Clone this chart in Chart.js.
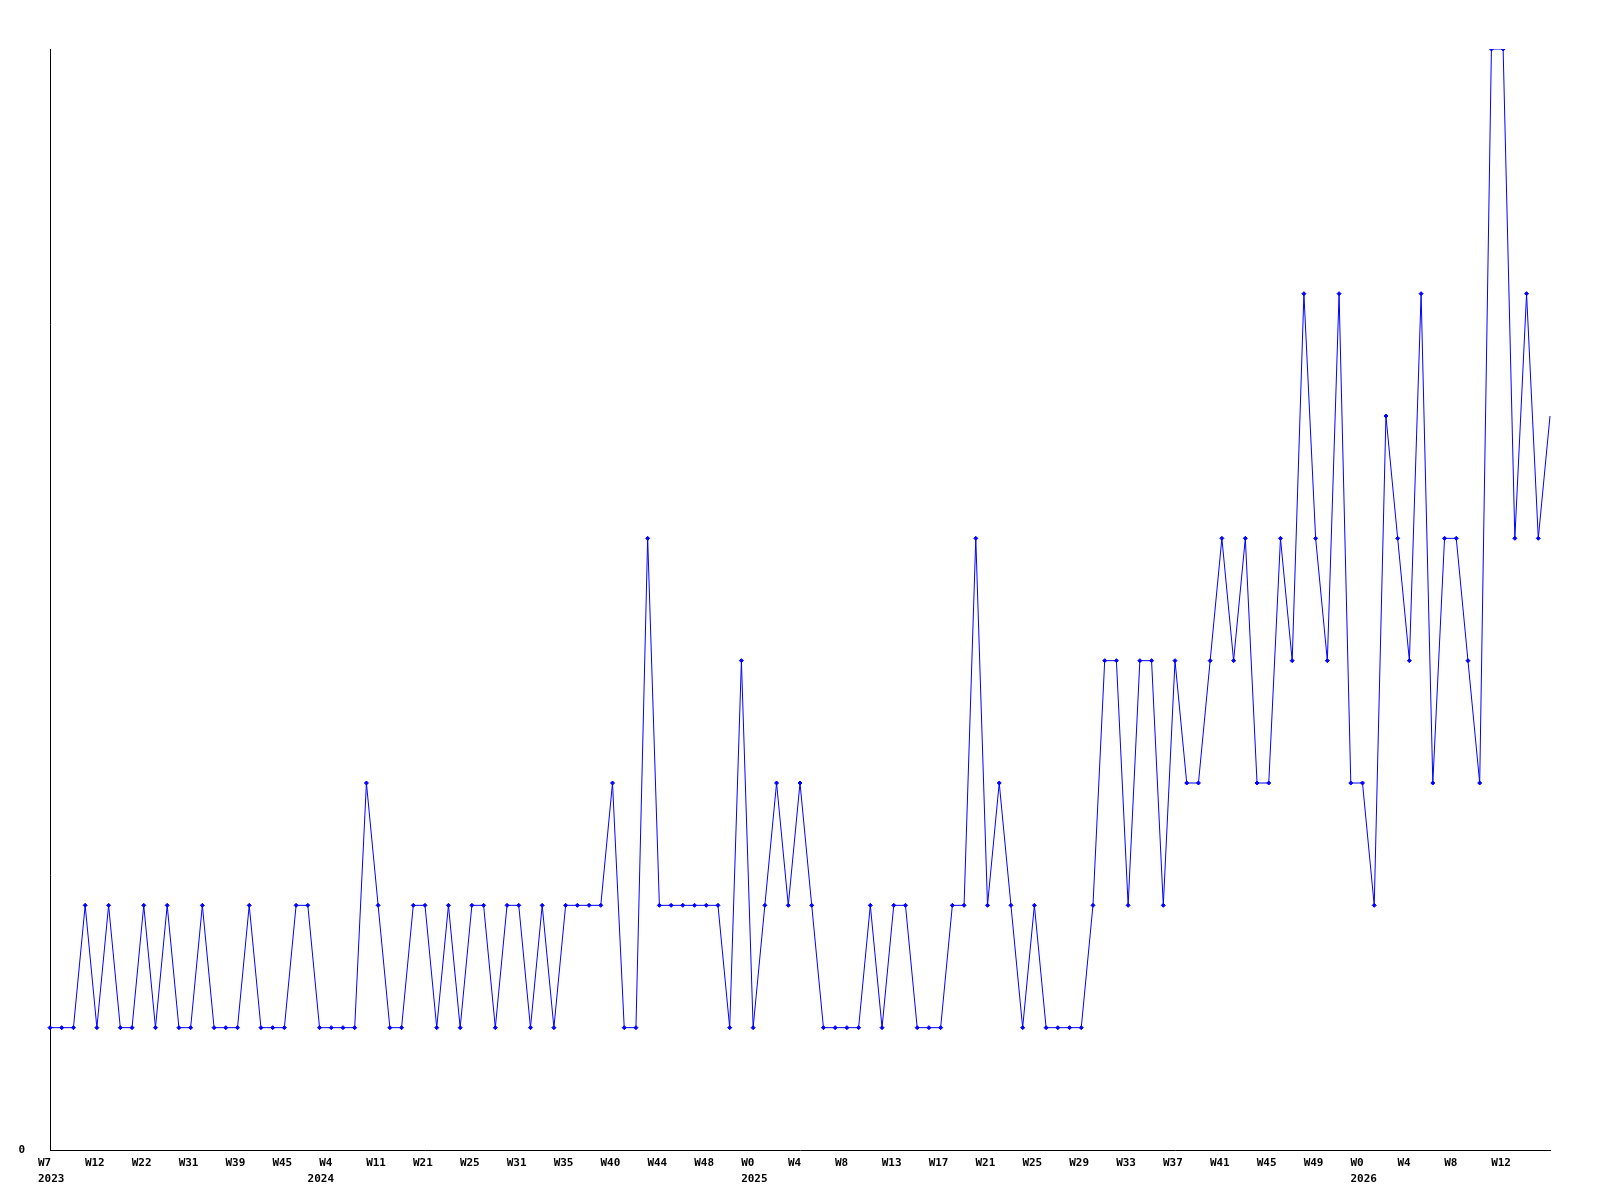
<!DOCTYPE html>
<html>
<head>
<meta charset="utf-8">
<title>Weekly count</title>
<script src="https://cdn.jsdelivr.net/npm/chart.js@4/dist/chart.umd.min.js"></script>
<style>
  body { margin: 0; background: #fff; }
  #wrap { width: 1600px; height: 1200px; }
</style>
</head>
<body>
<div id="wrap"><canvas id="weeklyChart" width="1600" height="1200"></canvas></div>
<script>
// one value per week
const counts = [
  1, 1, 1, 2, 1, 2, 1, 1, 2, 1,
  2, 1, 1, 2, 1, 1, 1, 2, 1, 1,
  1, 2, 2, 1, 1, 1, 1, 3, 2, 1,
  1, 2, 2, 1, 2, 1, 2, 2, 1, 2,
  2, 1, 2, 1, 2, 2, 2, 2, 3, 1,
  1, 5, 2, 2, 2, 2, 2, 2, 1, 4,
  1, 2, 3, 2, 3, 2, 1, 1, 1, 1,
  2, 1, 2, 2, 1, 1, 1, 2, 2, 5,
  2, 3, 2, 1, 2, 1, 1, 1, 1, 2,
  4, 4, 2, 4, 4, 2, 4, 3, 3, 4,
  5, 4, 5, 3, 3, 5, 4, 7, 5, 4,
  7, 3, 3, 2, 6, 5, 4, 7, 3, 5,
  5, 4, 3, 9, 9, 5, 7, 5, 6
];

// a week label every 4th point
const weekTicks = [
  "W7", "W12", "W22", "W31", "W39", "W45", "W4", "W11", "W21", "W25", "W31",
  "W35", "W40", "W44", "W48", "W0", "W4", "W8", "W13", "W17", "W21", "W25",
  "W29", "W33", "W37", "W41", "W45", "W49", "W0", "W4", "W8", "W12"
];
// year labels sit under the first point of each year
const yearStartIdx = [0, 23, 60, 112];
const years = ["2023", "2024", "2025", "2026"];

const tickEvery = 4;
const tickFont = { family: "'DejaVu Sans Mono', monospace", size: 11, weight: "bold", lineHeight: "16px" };

const tickLabel = (idx) => {
  const week = idx % tickEvery === 0 ? weekTicks[idx / tickEvery] : null;
  const y = yearStartIdx.indexOf(idx);
  if (y >= 0) return [week || "", years[y]];
  return week;
};

new Chart("weeklyChart", {
  type: "line",
  data: {
    labels: counts.map((_, i) => i),
    datasets: [
      {
        data: counts,
        borderColor: "#0000ff",
        borderWidth: 1,
        tension: 0,
        pointStyle: "rectRot",
        pointRadius: (ctx) => (ctx.dataIndex === counts.length - 1 ? 0 : 2),
        pointBackgroundColor: "#0000ff",
        pointBorderColor: "#0000ff",
        pointBorderWidth: 1,
        pointHoverRadius: 2,
      },
    ],
  },
  options: {
    responsive: false,
    animation: false,
    layout: { padding: { top: 49, right: 50, left: 0, bottom: 0 } },
    plugins: { legend: { display: false }, tooltip: { enabled: false } },
    scales: {
      x: {
        grid: { display: false, drawTicks: false },
        border: { display: true, color: "#000", width: 1 },
        afterFit: (scale) => { scale.height = 50; },
        ticks: {
          autoSkip: false,
          maxRotation: 0,
          align: "start",
          labelOffset: -12,
          padding: 5,
          color: "#000",
          font: tickFont,
          callback: (val, idx) => tickLabel(idx),
        },
      },
      y: {
        min: 0,
        max: 9,
        grid: { display: false, drawTicks: false },
        border: { display: true, color: "#000", width: 1 },
        afterFit: (scale) => { scale.width = 50; },
        ticks: {
          stepSize: 1,
          padding: 25,
          color: "#000",
          font: tickFont,
          callback: (v) => (v === 0 ? "0" : null),
        },
      },
    },
  },
});
</script>
</body>
</html>
